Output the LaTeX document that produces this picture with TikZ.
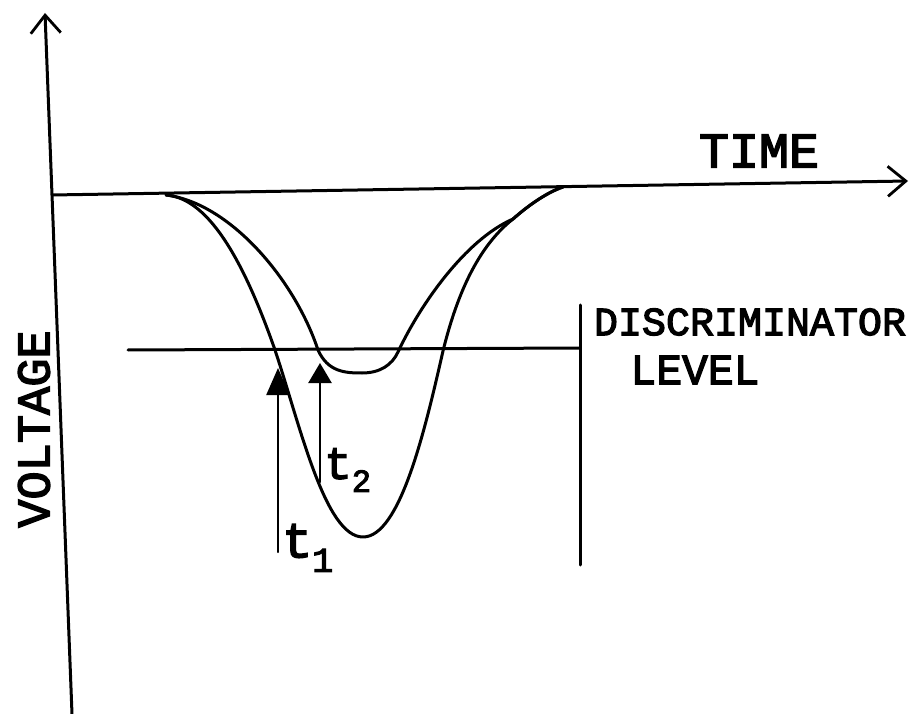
\documentclass[tikz,border=0pt]{standalone}
\usepackage{fontspec}
\newfontfamily\handfont{Liberation Mono}[FakeBold=3]
\usetikzlibrary{arrows.meta}
\tikzset{
  hand/.style={line width=3pt, line cap=round, line join=round},
  axis/.style={hand, -{Straight Barb[length=18pt,width=30pt,line width=2.8pt]}},
  marker/.style={hand, line width=2.4pt, -{Triangle[length=#1,width=23pt]}},
  lettering/.style={font=\handfont\fontsize{#1}{#1}\selectfont, inner sep=0pt},
}
\begin{document}
\begin{tikzpicture}[x=1pt, y=-1pt]
\useasboundingbox (0,0) rectangle (919,714);

\coordinate (O) at (52,195);
\coordinate (Ytop) at (45,13);
\coordinate (Ybot) at (72,714);
\coordinate (Xend) at (908,181);

\coordinate (D1) at (128,350);
\coordinate (D2) at (580,348);
\coordinate (V1) at (580,305);
\coordinate (V2) at (580,565);

\coordinate (S) at (166,195);
\coordinate (M) at (513,219);
\coordinate (E) at (563,187);

\coordinate (T1a) at (278,552);
\coordinate (T1b) at (278,368);
\coordinate (T2a) at (320,482);
\coordinate (T2b) at (320,363);

\draw[axis] (Ybot) -- (Ytop);
\draw[axis] (O) -- (Xend);

\draw[hand] (D1) -- (D2);
\draw[hand] (V1) -- (V2);

\draw[hand] (S) .. controls (205,198) and (240,250) .. (275,350)
  .. controls (300,425) and (325,537) .. (363,537)
  .. controls (400,537) and (425,430) .. (443,351)
  .. controls (458,290) and (480,245) .. (M)
  .. controls (530,204) and (548,192) .. (E);
\draw[hand] (S) .. controls (230,203) and (295,280) .. (318,350)
  .. controls (328,372) and (345,373) .. (362,373)
  .. controls (380,373) and (392,365) .. (398,352)
  .. controls (420,305) and (465,240) .. (M)
  .. controls (530,204) and (548,192) .. (E);

\draw[marker=27pt] (T1a) -- (T1b);
\draw[marker=20pt] (T2a) -- (T2b);

\node[lettering=50] (time) at (759,151) {TIME};
\node[lettering=40] (disc) at (750,322) {DISCRIMINATOR};
\node[lettering=43] (level) at (695,370) {LEVEL};
\node[lettering=47, rotate=90] (volt) at (34,429) {VOLTAGE};
\node[lettering=50, anchor=west] (t1) at (282,548) {t\textsubscript{1}};
\node[lettering=46, anchor=west] (t2) at (324,470) {t\textsubscript{2}};
\end{tikzpicture}
\end{document}
